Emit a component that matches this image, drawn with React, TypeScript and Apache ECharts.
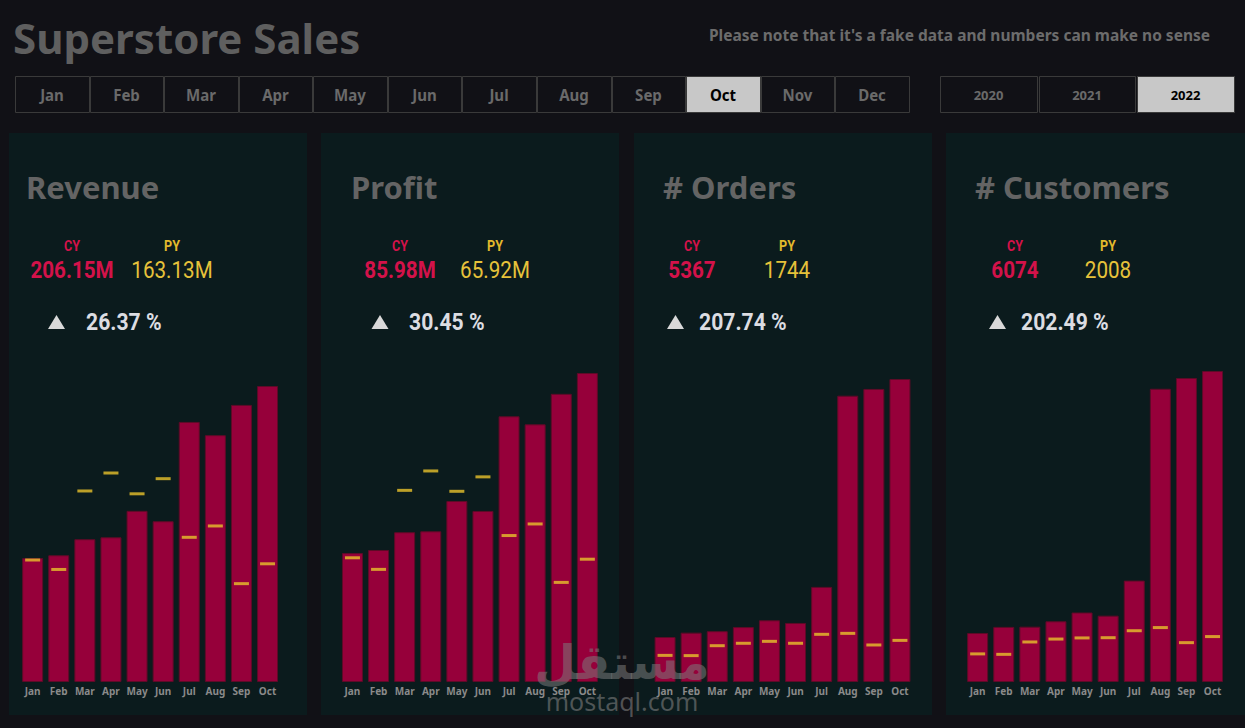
import React, { useEffect, useRef } from 'react';
import * as echarts from 'echarts';

// ---------- data ----------
const buttonMonths = ['Jan', 'Feb', 'Mar', 'Apr', 'May', 'Jun', 'Jul', 'Aug', 'Sep', 'Oct', 'Nov', 'Dec'];
const selectedMonth = 'Oct';
const years = ['2020', '2021', '2022'];
const selectedYear = '2022';

const chartMonths = ['Jan', 'Feb', 'Mar', 'Apr', 'May', 'Jun', 'Jul', 'Aug', 'Sep', 'Oct'];

const kpiTitles = ['Revenue', 'Profit', '# Orders', '# Customers'];
const cyTotals = ['206.15M', '85.98M', '5367', '6074'];
const pyTotals = ['163.13M', '65.92M', '1744', '2008'];
const deltaPct = ['26.37 %', '30.45 %', '207.74 %', '202.49 %'];

const revenueCY = [13.1, 13.4, 15.1, 15.3, 18.1, 17.0, 27.5, 26.1, 29.3, 31.3];
const revenuePY = [12.9, 11.9, 20.2, 22.1, 19.9, 21.5, 15.3, 16.5, 10.4, 12.5];
const profitCY = [5.45, 5.58, 6.33, 6.37, 7.65, 7.23, 11.23, 10.89, 12.18, 13.06];
const profitPY = [5.25, 4.76, 8.1, 8.92, 8.06, 8.67, 6.19, 6.68, 4.21, 5.19];
const ordersCY = [186, 204, 210, 227, 255, 244, 393, 1183, 1211, 1252];
const ordersPY = [110, 109, 150, 160, 168, 160, 197, 201, 153, 172];
const customersCY = [218, 245, 246, 270, 309, 295, 451, 1304, 1352, 1383];
const customersPY = [125, 123, 178, 191, 196, 197, 228, 242, 175, 202];

const cySeries = [revenueCY, profitCY, ordersCY, customersCY];
const pySeries = [revenuePY, profitPY, ordersPY, customersPY];

const noteText = "Please note that it's a fake data and numbers can make no sense";
const pageTitle = 'Superstore Sales';

// ---------- layout ----------
const W = 1245;
const H = 728;
const BG = '#111116';
const PANEL = '#0b1b1d';
const BAR = '#96003a';
const PYC = '#e8c22c';
const CYC = '#d3124a';

const panelLeft = [9, 321, 634, 946];
const panelRight = [307, 619, 932, 1245];
const titleX = [26, 351, 663, 975];
const cyX = [72, 400, 692, 1015];
const pyX = [172, 495, 787, 1108];
const triX = [56.5, 380, 675.5, 997.5];
const deltaX = [86, 409, 699, 1021];
const gridLeft = [19.6, 339.4, 652, 964.6];
const gridTop = [386, 373, 379, 371];
const BAND = 26.1;
const BASE_Y = 682;

function text(x: number, y: number, t: string, font: string, fill: string, align = 'left', extra: any = {}) {
  return {
    type: 'text',
    x,
    y,
    ...extra,
    style: {
      text: t,
      font,
      fill,
      textAlign: align,
      align,
      textVerticalAlign: 'middle',
      verticalAlign: 'middle',
    },
  };
}

function buildOption() {
  const graphics: any[] = [];
  // title + note
  graphics.push(text(13, 37, pageTitle, 'bold 42px "Noto Sans"', '#5f5f5f'));
  graphics.push(text(1210, 35, noteText, 'bold 15.5px "Noto Sans"', '#6c6c6c', 'right'));

  // month buttons
  buttonMonths.forEach((m, i) => {
    const x0 = Math.round(15 + i * 74.58);
    const x1 = Math.round(15 + (i + 1) * 74.58) - 1;
    const sel = m === selectedMonth;
    graphics.push({
      type: 'rect',
      shape: { x: x0 + 0.5, y: 76.5, width: x1 - x0, height: 36 },
      style: { fill: sel ? '#c8c8c8' : BG, stroke: '#3a3a3a', lineWidth: 1 },
    });
    graphics.push(text((x0 + x1) / 2, 95, m, 'bold 16px "Noto Sans"', sel ? '#000000' : '#6a6a6a', 'center', { scaleX: 0.94 }));
  });
  // year buttons
  years.forEach((y, i) => {
    const x0 = Math.round(940 + i * 98.5);
    const x1 = Math.round(940 + (i + 1) * 98.5) - 2;
    const sel = y === selectedYear;
    graphics.push({
      type: 'rect',
      shape: { x: x0 + 0.5, y: 76.5, width: x1 - x0, height: 36 },
      style: { fill: sel ? '#c8c8c8' : BG, stroke: '#3a3a3a', lineWidth: 1 },
    });
    graphics.push(text((x0 + x1) / 2, 95, y, 'bold 13px "Noto Sans"', sel ? '#000000' : '#6a6a6a', 'center'));
  });

  // panels
  kpiTitles.forEach((t, i) => {
    graphics.push({
      type: 'rect',
      shape: { x: panelLeft[i], y: 133, width: panelRight[i] - panelLeft[i], height: 582 },
      style: { fill: PANEL },
    });
    graphics.push(text(titleX[i], 187, t, 'bold 31px "Noto Sans"', '#646464'));
    graphics.push(text(cyX[i], 246, 'CY', 'bold 14px Roboto', CYC, 'center', { scaleX: 0.9 }));
    graphics.push(text(pyX[i], 246, 'PY', 'bold 14px Roboto', '#e3b92c', 'center', { scaleX: 0.9 }));
    graphics.push(text(cyX[i], 269, cyTotals[i], 'bold 24px Roboto', CYC, 'center', { scaleX: 0.86 }));
    graphics.push(text(pyX[i], 269, pyTotals[i], '24px Roboto', '#e6c23a', 'center', { scaleX: 0.86 }));
    graphics.push({
      type: 'polygon',
      shape: { points: [[triX[i] - 8.5, 329], [triX[i] + 8.5, 329], [triX[i], 315]] },
      style: { fill: '#d9d9d9' },
    });
    graphics.push(text(deltaX[i], 322, deltaPct[i], 'bold 23px Roboto', '#dcdde2', 'left', { scaleX: 0.92 }));
  });

  // watermark
  graphics.push(text(622, 662, 'مستقل', 'bold 48px "DejaVu Sans"', 'rgba(125,125,125,0.55)', 'center', { z: 100 }));
  graphics.push(text(622, 701, 'mostaql.com', '25px "Noto Sans"', 'rgba(125,125,125,0.6)', 'center', { z: 100 }));

  const grids: any[] = [];
  const xAxes: any[] = [];
  const yAxes: any[] = [];
  const series: any[] = [];
  for (let i = 0; i < 4; i++) {
    grids.push({ left: gridLeft[i], top: gridTop[i], width: BAND * 10, height: BASE_Y - gridTop[i] });
    xAxes.push({
      type: 'category',
      gridIndex: i,
      data: chartMonths,
      axisLine: { show: false },
      axisTick: { show: false },
      axisLabel: { color: '#8a8a8a', fontSize: 10, fontWeight: 'bold', fontFamily: '"Noto Sans"', margin: 4, interval: 0 },
    });
    yAxes.push({ type: 'value', gridIndex: i, min: 0, max: 'dataMax', show: false, splitLine: { show: false } });
    series.push({
      type: 'bar',
      name: 'CY',
      xAxisIndex: i,
      yAxisIndex: i,
      data: cySeries[i],
      barWidth: 21,
      itemStyle: { color: BAR, borderColor: '#5e0b27', borderWidth: 1 },
      z: 2,
    });
    series.push({
      type: 'scatter',
      name: 'PY',
      xAxisIndex: i,
      yAxisIndex: i,
      data: pySeries[i],
      symbol: 'rect',
      symbolSize: [15, 3],
      itemStyle: { color: PYC },
      z: 3,
    });
  }

  return {
    animation: false,
    backgroundColor: BG,
    graphic: { elements: graphics },
    grid: grids,
    xAxis: xAxes,
    yAxis: yAxes,
    series,
  };
}

export default function App() {
  const ref = useRef<HTMLDivElement>(null);
  useEffect(() => {
    if (!ref.current) return;
    const chart = echarts.init(ref.current, null, { renderer: 'svg' });
    chart.setOption(buildOption() as any);
    return () => chart.dispose();
  }, []);
  return (
    <div
      ref={ref}
      style={{ position: 'fixed', left: 0, top: 0, width: W, height: H, background: BG }}
    />
  );
}
